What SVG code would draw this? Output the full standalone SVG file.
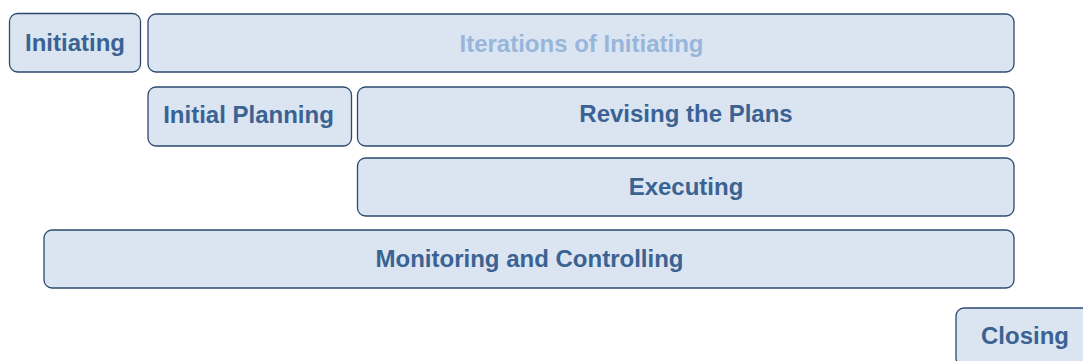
<svg xmlns="http://www.w3.org/2000/svg" width="1083" height="361" viewBox="0 0 1083 361">
<style>
.box{fill:#dbe5f1;stroke:#2c4a70;stroke-width:1.3}
.t{font-family:"Liberation Sans",Arial,sans-serif;font-weight:bold;font-size:24px;fill:#3a6293;text-anchor:middle;dominant-baseline:central}
.faint{fill:#98b6dc}
</style>
<rect width="1083" height="361" fill="#ffffff"/>
<g id="initiating"><rect class="box" x="9.5" y="13.5" width="131" height="58.5" rx="8"/><text class="t" x="75" y="42">Initiating</text></g>
<g id="iterations"><rect class="box" x="148" y="14" width="866" height="58" rx="8"/><text class="t faint" x="581.5" y="43">Iterations of Initiating</text></g>
<g id="initial-planning"><rect class="box" x="148" y="87" width="203.5" height="59" rx="8"/><text class="t" x="248.5" y="114.5">Initial Planning</text></g>
<g id="revising"><rect class="box" x="357.5" y="87" width="656.5" height="59" rx="8"/><text class="t" x="686" y="113.5">Revising the Plans</text></g>
<g id="executing"><rect class="box" x="357.5" y="158" width="656.5" height="58" rx="8"/><text class="t" x="686" y="186">Executing</text></g>
<g id="monitoring"><rect class="box" x="44" y="230" width="970" height="58" rx="8"/><text class="t" x="529.5" y="258">Monitoring and Controlling</text></g>
<g id="closing"><rect class="box" x="956" y="308" width="138" height="58" rx="8"/><text class="t" x="1025" y="335.5">Closing</text></g>
<g id="connectors"></g>
</svg>
